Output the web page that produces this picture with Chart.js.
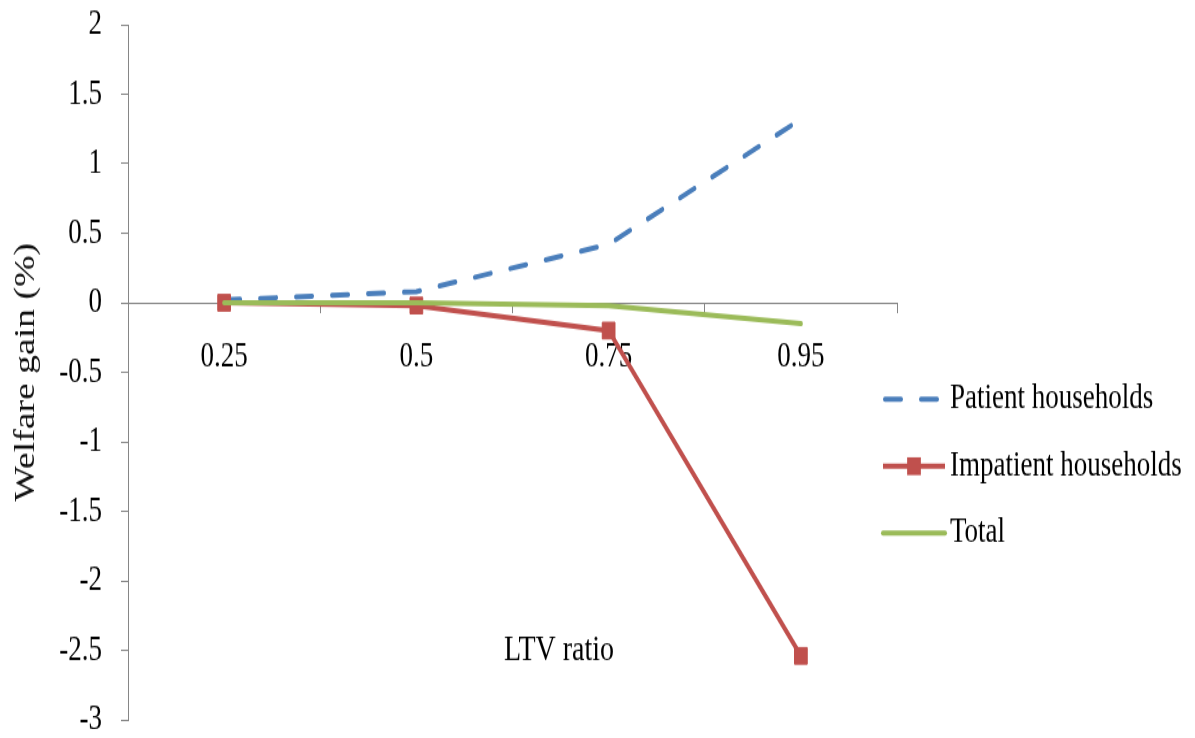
<!DOCTYPE html>
<html>
<head>
<meta charset="utf-8">
<script src="https://cdn.jsdelivr.net/npm/chart.js@4/dist/chart.umd.min.js"></script>
<style>
  html, body { margin: 0; padding: 0; background: #ffffff; }
  #wrap { width: 1195px; height: 738px; overflow: hidden; position: relative; }
  /* the chart is drawn on a shorter canvas and stretched vertically */
  #chart { display: block; transform-origin: 0 0; transform: scaleY(1.29930); }
</style>
</head>
<body>
<div id="wrap"><canvas id="chart" width="1195" height="568"></canvas></div>
<script>
// LTV ratio categories
const categories = ['0.25', '0.5', '0.75', '0.95'];

// Welfare gain (%) per household group
const patientHouseholds = [0.02, 0.08, 0.42, 1.32];
const impatientHouseholds = [0.0, -0.02, -0.20, -2.54];
const totalWelfare = [0.0, 0.0, -0.02, -0.15];

// Value axis range
const yMin = -3;
const yMax = 2;
const yStep = 0.5;

const seriesNames = ['Patient households', 'Impatient households', 'Total'];

const SERIF = "'Liberation Serif', 'Times New Roman', serif";
const AXIS_GREY = '#868686';

// Legend at the right and the category-axis title inside the plot
const extrasPlugin = {
  id: 'extras',
  afterDraw(chart) {
    const ctx = chart.ctx;
    const ds = chart.data.datasets;
    const rows = [307.3, 358.8, 410.3];
    const x0 = 883, x1 = 945, textX = 950;
    ctx.save();
    ctx.font = '27px ' + SERIF;
    ctx.fillStyle = '#000000';
    ctx.textBaseline = 'middle';
    ctx.textAlign = 'left';
    ds.forEach((d, i) => {
      const y = rows[i];
      ctx.save();
      ctx.strokeStyle = d.borderColor;
      ctx.lineWidth = d.borderWidth;
      ctx.lineCap = d.borderCapStyle || 'butt';
      ctx.setLineDash(d.borderDash || []);
      ctx.beginPath();
      if (d.borderDash && d.borderDash.length) {
        ctx.moveTo(x0 + 2, y);
        ctx.lineTo(x1 - 2, y);
      } else {
        ctx.moveTo(x0, y);
        ctx.lineTo(x1, y);
      }
      ctx.stroke();
      ctx.setLineDash([]);
      if (d.pointRadius > 0) {
        const s = d.pointRadius * Math.SQRT2 + 1;
        ctx.fillStyle = d.pointBackgroundColor;
        ctx.fillRect((x0 + x1) / 2 - s / 2, y - s / 2, s, s);
      }
      ctx.restore();
      ctx.fillText(d.label, textX, y);
    });
    ctx.font = '28px ' + SERIF;
    ctx.textAlign = 'center';
    ctx.fillText('LTV ratio', 559, 501);
    ctx.restore();
  }
};

new Chart(document.getElementById('chart'), {
  type: 'line',
  data: {
    labels: categories,
    datasets: [
      {
        label: seriesNames[0],
        data: patientHouseholds,
        borderColor: '#4A7EBB',
        backgroundColor: '#4A7EBB',
        borderWidth: 4,
        borderDash: [16, 20],
        borderCapStyle: 'round',
        pointRadius: 0,
        tension: 0,
        order: 2
      },
      {
        label: seriesNames[1],
        data: impatientHouseholds,
        borderColor: '#C0504D',
        backgroundColor: '#C0504D',
        borderWidth: 4,
        pointStyle: 'rect',
        pointRadius: 9,
        pointBorderWidth: 1,
        pointBackgroundColor: '#C0504D',
        pointBorderColor: '#C0504D',
        tension: 0,
        order: 1
      },
      {
        label: seriesNames[2],
        data: totalWelfare,
        borderColor: '#9BBB59',
        backgroundColor: '#9BBB59',
        borderWidth: 4,
        borderCapStyle: 'round',
        pointRadius: 0,
        tension: 0,
        order: 0
      }
    ]
  },
  options: {
    responsive: false,
    devicePixelRatio: 1,
    animation: false,
    events: [],
    layout: {
      autoPadding: false,
      padding: { left: 0, right: 298, top: 19, bottom: 14 }
    },
    plugins: {
      legend: { display: false },
      tooltip: { enabled: false }
    },
    scales: {
      x: {
        type: 'category',
        position: { y: 0 },
        offset: true,
        afterFit(scale) {
          scale.paddingLeft = 0;
          scale.paddingRight = 0;
          scale.paddingTop = 0;
          scale.paddingBottom = 0;
        },
        grid: {
          display: true,
          offset: true,
          drawOnChartArea: false,
          drawTicks: true,
          tickLength: 7,
          color: AXIS_GREY
        },
        border: { display: true, color: AXIS_GREY, width: 1 },
        ticks: {
          padding: 19,
          color: '#000000',
          font: { family: SERIF, size: 27 },
          maxRotation: 0,
          autoSkip: false
        }
      },
      y: {
        type: 'linear',
        position: 'left',
        min: yMin,
        max: yMax,
        afterFit(scale) {
          scale.width = 128;
          scale.paddingTop = 0;
          scale.paddingBottom = 0;
        },
        grid: {
          display: true,
          drawOnChartArea: false,
          drawTicks: true,
          tickLength: 7,
          color: AXIS_GREY
        },
        border: { display: true, color: AXIS_GREY, width: 1 },
        ticks: {
          stepSize: yStep,
          padding: 19,
          color: '#000000',
          font: { family: SERIF, size: 27 },
          callback: (v) => String(Math.round(v * 10) / 10)
        },
        title: {
          display: true,
          text: 'Welfare gain (%)',
          color: '#111111',
          font: { family: SERIF, size: 29, weight: 'normal' },
          padding: { top: 9, bottom: 0 }
        }
      }
    }
  },
  plugins: [extrasPlugin]
});
</script>
</body>
</html>
